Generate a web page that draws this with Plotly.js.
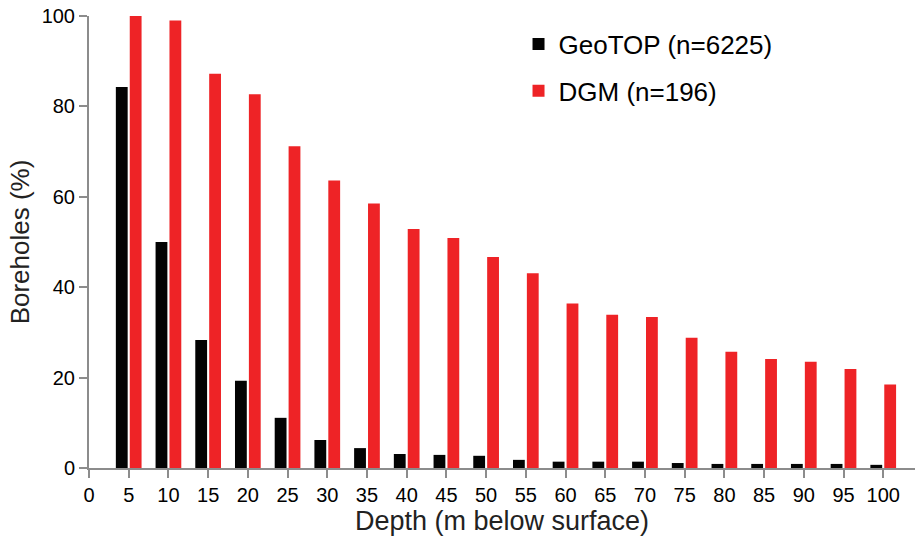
<!DOCTYPE html>
<html>
<head>
<meta charset="utf-8">
<script src="https://cdn.plot.ly/plotly-3.0.1.min.js"></script>
<style>html,body{margin:0;padding:0;background:#fff;}#chart{width:915px;height:542px;}</style>
</head>
<body>
<div id="chart"></div>
<script>
const depths = [5,10,15,20,25,30,35,40,45,50,55,60,65,70,75,80,85,90,95,100];
const geotop = [84.3,50.0,28.3,19.3,11.1,6.2,4.4,3.1,2.9,2.7,1.8,1.4,1.4,1.4,1.1,0.9,0.9,0.9,0.9,0.7];
const dgm = [100,99.0,87.2,82.7,71.2,63.6,58.5,52.9,50.9,46.7,43.1,36.4,33.9,33.4,28.8,25.7,24.1,23.5,21.9,18.5];
const xTicks = [0,5,10,15,20,25,30,35,40,45,50,55,60,65,70,75,80,85,90,95,100];
const yTicks = [0,20,40,60,80,100];
const seriesNames = ['GeoTOP (n=6225)','DGM (n=196)'];

const font = 'Liberation Sans, Arial, Helvetica, sans-serif';
const data = [
  {type:'bar', x:depths, y:geotop, name:seriesNames[0], marker:{color:'#030303'}, legendgroup:'a'},
  {type:'bar', x:depths, y:dgm, name:seriesNames[1], marker:{color:'#EE2326'}, legendgroup:'b'}
];
const axisCol = '#8c8c8c';
const layout = {
  width:915, height:542,
  margin:{l:89, r:0, t:16, b:74},
  paper_bgcolor:'#fff', plot_bgcolor:'#fff',
  barmode:'group', bargap:0.3, bargroupgap:0.15,
  font:{family:font, color:'#000'},
  showlegend:true,
  legend:{x:0.52, y:0.99, xanchor:'left', yanchor:'top', font:{size:26, color:'#000'}, traceorder:'grouped', tracegroupgap:10, bgcolor:'rgba(0,0,0,0)'},
  xaxis:{range:[0,104], tickvals:xTicks, ticktext:xTicks.map(String), showline:true, linecolor:axisCol, linewidth:2,
    ticks:'outside', ticklen:8, tickwidth:2, tickcolor:axisCol, showgrid:false, zeroline:false,
    tickfont:{size:20, color:'#000'}, title:{text:'Depth (m below surface)', font:{size:27, color:'#222'}, standoff:6}},
  yaxis:{range:[0,100], tickvals:yTicks, showline:true, linecolor:axisCol, linewidth:2,
    ticks:'outside', ticklen:8, tickwidth:2, tickcolor:axisCol, showgrid:false, zeroline:false,
    tickfont:{size:20, color:'#000'}, title:{text:'Boreholes (%)', font:{size:26, color:'#222'}, standoff:5}}
};
Plotly.newPlot('chart', data, layout, {displayModeBar:false, staticPlot:true});
</script>
</body>
</html>
